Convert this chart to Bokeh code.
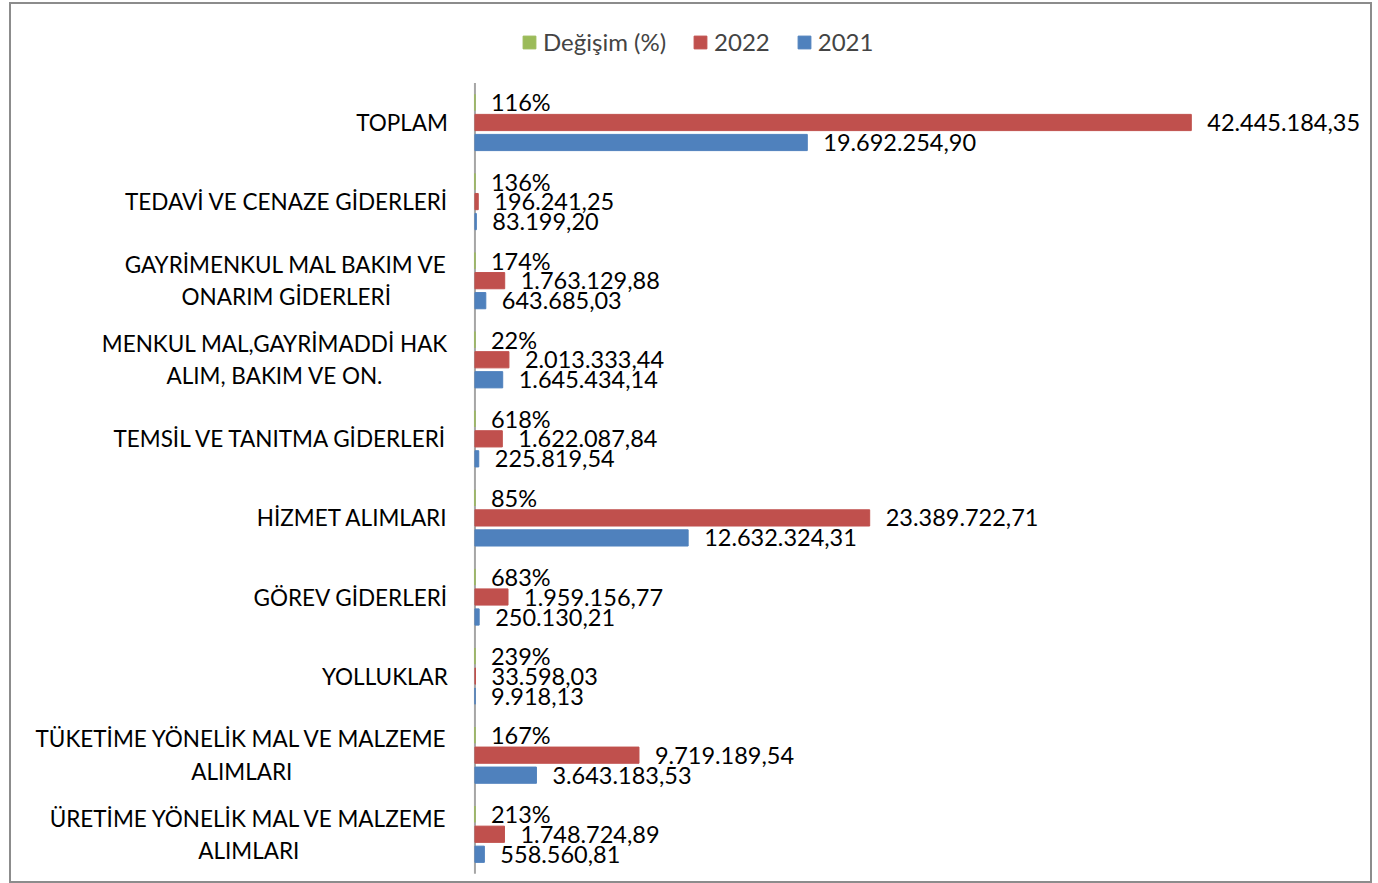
from bokeh.plotting import figure
from bokeh.models import Range1d, ColumnDataSource, Legend, LegendItem
from bokeh.core.properties import value
from bokeh.embed import file_html
from bokeh.resources import INLINE

# Data (top to bottom as in the chart)
categories = [
    "TOPLAM",
    "TEDAVİ VE CENAZE GİDERLERİ",
    "GAYRİMENKUL MAL BAKIM VE\nONARIM GİDERLERİ",
    "MENKUL MAL,GAYRİMADDİ HAK\nALIM, BAKIM VE ON.",
    "TEMSİL VE TANITMA GİDERLERİ",
    "HİZMET ALIMLARI",
    "GÖREV GİDERLERİ",
    "YOLLUKLAR",
    "TÜKETİME YÖNELİK MAL VE MALZEME\nALIMLARI",
    "ÜRETİME YÖNELİK MAL VE MALZEME\nALIMLARI",
]
change_pct = [116, 136, 174, 22, 618, 85, 683, 239, 167, 213]
values_2022 = [42445184.35, 196241.25, 1763129.88, 2013333.44, 1622087.84,
               23389722.71, 1959156.77, 33598.03, 9719189.54, 1748724.89]
values_2021 = [19692254.90, 83199.20, 643685.03, 1645434.14, 225819.54,
               12632324.31, 250130.21, 9918.13, 3643183.53, 558560.81]
series_names = ["Değişim (%)", "2022", "2021"]

FONT = "Lato"
CAT_FS = "22.5px"
LBL_FS = "23.5px"
LEG_FS = "24px"
GREEN, RED, BLUE = "#9BBB59", "#C0504D", "#4F81BD"


def tr(v):
    s = f"{v:,.2f}"
    return s.replace(",", "X").replace(".", ",").replace("X", ".")


n = len(categories)
ypos = [n - 1 - i for i in range(n)]  # top category highest
OFF = 0.253
H = 0.205

src = ColumnDataSource(dict(
    cat=categories,
    y=ypos,
    yg=[y + OFF for y in ypos],
    yb=[y - OFF for y in ypos],
    pct=[c / 100 for c in change_pct],
    pct_lbl=[f"{c}%" for c in change_pct],
    v22=values_2022,
    v22_lbl=[tr(v) for v in values_2022],
    v21=values_2021,
    v21_lbl=[tr(v) for v in values_2021],
))

p = figure(
    width=1363, height=881,
    x_range=Range1d(-27_460_000, 53_300_000),
    y_range=Range1d(-0.648, n - 0.5 + 0.992),
    output_backend="svg", toolbar_location=None,
    min_border=0,
)
p.styles = {"border": "2px solid #8C8C8C", "margin": "2px 0 0 9px"}
p.outline_line_color = None
p.xgrid.visible = False
p.ygrid.visible = False
p.xaxis.visible = False
p.yaxis.visible = False

# category axis line
p.segment(x0=0, x1=0, y0=-0.5, y1=n - 0.5, line_color="#A6A6A6", line_width=2)

g = p.hbar(y="yg", right="pct", left=0, height=H, source=src, color=GREEN)
r = p.hbar(y="y", right="v22", left=0, height=H, source=src, color=RED)
b = p.hbar(y="yb", right="v21", left=0, height=H, source=src, color=BLUE)

# category labels: block right-aligned to the axis, lines centred
p.text(x=0, y="y", text="cat", source=src, x_offset=-27,
       anchor="center_right", text_align="center", text_baseline="middle",
       text_line_height=1.2,
       text_font=value(FONT), text_font_size=CAT_FS, text_color="#000000")

for col, lbl, yc in (("pct", "pct_lbl", "yg"), ("v22", "v22_lbl", "y"), ("v21", "v21_lbl", "yb")):
    p.text(x=col, y=yc, text=lbl, source=src,
           x_offset=16, text_align="left", text_baseline="middle",
           text_font=value(FONT), text_font_size=LBL_FS, text_color="#000000")

legend = Legend(
    items=[LegendItem(label=series_names[0], renderers=[g]),
           LegendItem(label=series_names[1], renderers=[r]),
           LegendItem(label=series_names[2], renderers=[b])],
    orientation="horizontal", location=(510, 829),
    label_text_font=FONT, label_text_font_size=LEG_FS,
    glyph_width=16, glyph_height=16, label_standoff=6, spacing=26,
    border_line_color=None, background_fill_alpha=0, padding=0, margin=0,
)
p.add_layout(legend, "center")

open("out.html", "w").write(file_html(p, INLINE))
